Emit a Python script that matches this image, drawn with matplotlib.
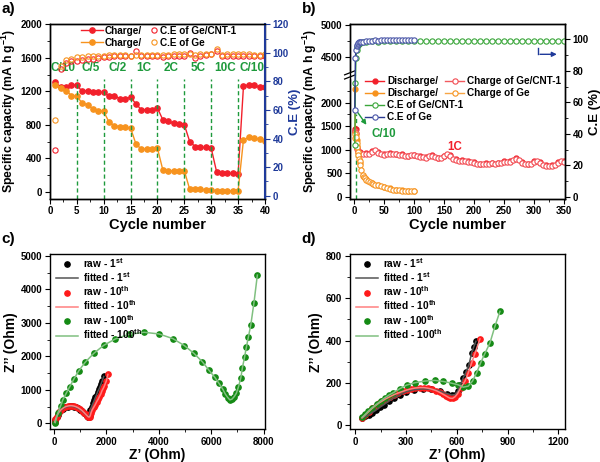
import numpy as np
import matplotlib
matplotlib.use("Agg")
import matplotlib.pyplot as plt
from matplotlib.ticker import MultipleLocator, AutoMinorLocator, FixedLocator

plt.rcParams['font.family'] = ['Liberation Sans', 'DejaVu Sans']
plt.rcParams['font.weight'] = 'bold'
plt.rcParams['axes.labelweight'] = 'bold'
plt.rcParams['mathtext.fontset'] = 'custom'
plt.rcParams['mathtext.rm'] = 'Liberation Sans:bold'
plt.rcParams['mathtext.it'] = 'Liberation Sans:bold'
plt.rcParams['mathtext.bf'] = 'Liberation Sans:bold'
plt.rcParams['axes.linewidth'] = 1.0
plt.rcParams['xtick.labelsize'] = 7
plt.rcParams['ytick.labelsize'] = 7
plt.rcParams['xtick.major.size'] = 3.5
plt.rcParams['ytick.major.size'] = 3.5
plt.rcParams['xtick.minor.size'] = 2
plt.rcParams['ytick.minor.size'] = 2
plt.rcParams['xtick.major.pad'] = 2
plt.rcParams['ytick.major.pad'] = 2

RED = '#F2202B'
ORANGE = '#F7931E'
GREEN = '#1E9A3C'
NAVY = '#1F3A9A'
CE_GREEN = '#3AA63A'
CE_BLUE = '#2B3A92'

# ---- a) rate performance ----
cycles_a = list(range(1, 41))
charge_cnt_a = [1310, 1250, 1250, 1280, 1270, 1200, 1210, 1190, 1190, 1190,
                1140, 1150, 1110, 1110, 1130, 1050, 980, 980, 980, 1000,
                860, 840, 820, 810, 800, 600, 540, 530, 530, 520,
                240, 220, 220, 220, 210, 1260, 1280, 1270, 1250, 1250]
charge_ge_a = [1280, 1240, 1210, 1150, 1140, 1060, 1040, 990, 970, 960,
               830, 790, 780, 770, 760, 570, 510, 510, 510, 520,
               260, 250, 250, 250, 250, 30, 30, 30, 25, 25,
               10, 10, 10, 10, 10, 620, 650, 640, 630, 610]
ce_cnt_a = [32, 89, 93, 94, 94, 95, 96, 96, 96.5, 97,
            97, 97.5, 97.5, 98, 97.5, 101, 97.5, 97.5, 97.5, 98,
            97, 97.5, 98, 98, 98, 100, 96.5, 98, 98.5, 99,
            101.5, 97.5, 98, 98, 98, 98, 97.5, 98, 97.5, 98]
ce_ge_a = [53, 91, 95, 96, 97, 97, 97.5, 97.5, 98, 98,
           98.5, 98.5, 98.5, 98.5, 98, 98.5, 98.5, 98.5, 98.5, 98.5,
           98.5, 98.5, 99, 99, 99, 99.5, 98.5, 99, 99, 99,
           102.5, 98.5, 99, 99, 99, 99, 99, 98.5, 98.5, 99]
rate_labels = ['C/10', 'C/5', 'C/2', '1C', '2C', '5C', '10C', 'C/10']
rate_edges = [5, 10, 15, 20, 25, 30, 35]

# ---- b) cycling at 1C ----
cyc_cnt_chg = [1, 2, 3, 4, 6, 10, 15, 20, 25, 30, 35, 40, 45, 50, 55, 60, 65, 70,
               75, 80, 85, 90, 95, 100, 105, 110, 115, 120, 125, 130, 135, 140,
               145, 150, 155, 160, 165, 170, 175, 180, 185, 190, 195, 200, 205,
               210, 215, 220, 225, 230, 235, 240, 245, 250, 255, 260, 265, 270,
               275, 280, 285, 290, 295, 300, 305, 310, 315, 320, 325, 330, 335,
               340, 345, 350]
cap_cnt_chg = [1400, 1380, 1350, 1010, 960, 930, 920, 910, 920, 950, 985, 930, 900,
               890, 910, 920, 910, 900, 880, 890, 870, 860, 880, 880, 870, 850,
               840, 830, 860, 870, 840, 820, 830, 860, 900, 870, 810, 780, 770,
               760, 770, 750, 740, 720, 700, 690, 690, 700, 700, 710, 700, 710,
               720, 740, 730, 750, 780, 810, 780, 720, 700, 690, 700, 740, 770,
               720, 680, 660, 650, 660, 680, 720, 760, 740]
cyc_cnt_dis = [2, 3, 4, 10, 20, 30, 40, 50, 60, 70, 80, 90, 100, 110, 120, 130, 140,
               150, 160, 170, 180, 190, 200, 210, 220, 230, 240, 250, 260, 270,
               280, 290, 300, 310, 320, 330, 340, 350]
cap_cnt_dis = [1450, 1430, 1030, 945, 925, 965, 945, 905, 930, 915, 900, 875, 895,
               865, 845, 880, 835, 870, 885, 795, 775, 765, 735, 705, 715, 720,
               725, 755, 765, 820, 735, 705, 755, 735, 675, 675, 735, 755]
cyc_ge_chg = [1, 2, 3, 4, 5, 6, 7, 8, 9, 10, 12, 14, 16, 18, 20, 23, 26, 29, 32,
              35, 40, 45, 50, 55, 60, 65, 70, 75, 80, 85, 90, 95, 100]
cap_ge_chg = [1250, 1330, 1280, 1150, 1050, 960, 880, 810, 760, 680, 560, 460,
              420, 390, 360, 340, 310, 285, 270, 260, 245, 230, 200, 180, 170,
              155, 145, 140, 135, 130, 130, 125, 125]
cyc_ge_dis = [1, 2, 3, 4, 5, 10, 15, 20, 30, 40, 50, 60, 70, 80, 90, 100]
cap_ge_dis = [2290, 1400, 1340, 1200, 1090, 720, 450, 380, 300, 255, 210, 180,
              150, 140, 135, 130]
cyc_ce_cnt = [1, 2, 3, 4, 5, 6, 8, 10, 15, 20, 30, 40, 50, 60, 70, 80, 90, 100,
              110, 120, 130, 140, 150, 160, 170, 180, 190, 200, 210, 220, 230,
              240, 250, 260, 270, 280, 290, 300, 310, 320, 330, 340, 350]
ce_cnt_b = [33, 72, 88, 93, 95, 96.5, 97, 97.5, 98, 98.5, 98.8, 98.5, 98.8, 99,
            98.7, 99, 98.8, 99.2, 98.8, 98.7, 99, 98.8, 99, 98.8, 98.9, 98.7,
            99, 98.8, 99.1, 98.9, 98.8, 99, 98.9, 98.8, 99.2, 98.9, 98.8, 99,
            98.9, 99, 98.8, 99, 98.9]
cyc_ce_ge = [1, 2, 3, 4, 5, 6, 7, 8, 10, 12, 15, 20, 25, 30, 35, 40, 45, 50, 55,
             60, 65, 70, 75, 80, 85, 90, 95, 100]
ce_ge_b = [55, 88, 93, 95.5, 96.5, 97, 97.5, 98, 98, 98.5, 98.5, 99, 99, 99.2,
           99.5, 99.2, 99.3, 99.4, 99.3, 99.5, 99.4, 99.6, 99.5, 99.6, 99.5,
           99.6, 99.6, 99.7]

# ---- c) EIS of Ge/CNT-1 ----
zre_c_1 = [30, 60, 100, 150, 210, 280, 360, 440, 520, 600, 680, 760, 840, 920,
           1000, 1080, 1150, 1210, 1260, 1300, 1330, 1360, 1393, 1440, 1493,
           1540, 1583, 1630, 1670, 1720, 1759, 1800, 1840, 1900]
zim_c_1 = [30, 100, 180, 260, 330, 390, 440, 475, 495, 505, 505, 495, 475, 445,
           405, 360, 310, 265, 225, 200, 195, 250, 397, 500, 598, 690, 777, 860,
           945, 1020, 1094, 1180, 1260, 1400]
zre_c_10 = [30, 60, 100, 150, 210, 280, 360, 440, 520, 600, 680, 760, 840, 920,
            1000, 1080, 1150, 1210, 1260, 1300, 1330, 1360, 1390, 1416, 1460,
            1519, 1580, 1633, 1690, 1735, 1790, 1834, 1880, 1925, 2000, 2060]
zim_c_10 = [40, 120, 200, 280, 350, 410, 460, 495, 515, 525, 525, 515, 495, 465,
            425, 375, 320, 270, 230, 200, 185, 190, 240, 318, 400, 478, 560, 646,
            720, 796, 880, 975, 1040, 1115, 1264, 1460]
zre_c_100 = [50, 150, 255, 340, 470, 595, 760, 950, 1190, 1520, 1900, 2340, 2870,
             3440, 4010, 4540, 4980, 5340, 5660, 5910, 6140, 6290, 6440, 6540,
             6630, 6710, 6790, 6880, 6960, 7040, 7130, 7190, 7270, 7340, 7420,
             7510, 7630, 7760]
zim_c_100 = [20, 300, 520, 700, 900, 1080, 1320, 1570, 1820, 2090, 2330, 2520,
             2660, 2720, 2670, 2530, 2320, 2090, 1840, 1590, 1370, 1200, 1020,
             870, 770, 700, 720, 800, 900, 1090, 1360, 1660, 1970, 2270, 2590,
             2940, 3600, 4430]

# ---- d) EIS of Ge ----
zre_d_1 = [40, 60, 80, 100, 120, 145, 170, 200, 230, 265, 300, 350, 400, 450,
           500, 540, 570, 590, 605, 620, 638, 654, 672, 688, 700, 713]
zim_d_1 = [35, 42, 50, 60, 70, 85, 98, 115, 130, 145, 158, 168, 172, 170, 162,
           150, 143, 145, 160, 190, 224, 251, 287, 342, 370, 397]
zre_d_10 = [40, 60, 80, 100, 120, 140, 160, 180, 205, 230, 255, 280, 305, 330,
            355, 380, 405, 430, 455, 480, 500, 520, 535, 550, 560, 575, 590,
            605, 623, 648, 668, 688, 707, 737]
zim_d_10 = [35, 50, 65, 80, 93, 105, 115, 125, 135, 145, 153, 160, 167, 172,
            176, 178, 178, 175, 170, 163, 155, 146, 139, 132, 128, 127, 135,
            150, 177, 208, 248, 295, 339, 408]
zre_d_100 = [41, 60, 77, 100, 126, 150, 175, 200, 225, 264, 304, 353, 412, 471,
             520, 569, 608, 638, 668, 693, 717, 741, 766, 796, 825, 855]
zim_d_100 = [38, 52, 67, 83, 99, 115, 130, 143, 154, 173, 190, 201, 209, 212,
             207, 199, 191, 180, 185, 209, 248, 295, 339, 389, 467, 538]

fig = plt.figure(figsize=(6, 4.62), dpi=100)
ax_a = fig.add_axes([0.0833, 0.5703, 0.3583, 0.377])
ax_b = fig.add_axes([0.5833, 0.5703, 0.3583, 0.377])
ax_c = fig.add_axes([0.0833, 0.0708, 0.3583, 0.3794])
ax_d = fig.add_axes([0.5833, 0.0708, 0.3583, 0.3794])

LEG = dict(frameon=False, fontsize=7.2, borderpad=0, borderaxespad=0,
           loc='upper left')

# ======== a ========
ax = ax_a
h1, = ax.plot(cycles_a, charge_cnt_a, '-o', color=RED, ms=3.8, lw=1)
h2, = ax.plot(cycles_a, charge_ge_a, '-o', color=ORANGE, ms=3.8, lw=1)
ax.vlines(rate_edges, -80, 1350, colors=GREEN, linestyles=(0, (3, 2)), lw=1)
edges = [0] + rate_edges + [40]
for i, lab in enumerate(rate_labels):
    ax.text((edges[i] + edges[i + 1]) / 2, 1480, lab, color=GREEN, fontsize=8.5,
            ha='center', va='center')
ax.set_xlim(0, 40)
ax.set_ylim(-80, 2000)
ax.xaxis.set_major_locator(MultipleLocator(5))
ax.xaxis.set_minor_locator(AutoMinorLocator(2))
ax.yaxis.set_major_locator(MultipleLocator(400))
ax.yaxis.set_minor_locator(AutoMinorLocator(2))
ax.set_xlabel('Cycle number', fontsize=10.5, labelpad=1)
ax.set_ylabel('Specific capacity (mA h g$^{-1}$)', fontsize=8.8, labelpad=2)
ax2 = ax.twinx()
h3, = ax2.plot(cycles_a, ce_cnt_a, 'o', mfc='none', mec=RED, ms=3.8, mew=0.8)
h4, = ax2.plot(cycles_a, ce_ge_a, 'o', mfc='none', mec=ORANGE, ms=3.8, mew=0.8)
ax2.set_ylim(-2, 120)
ax2.yaxis.set_major_locator(MultipleLocator(20))
ax2.yaxis.set_minor_locator(AutoMinorLocator(2))
ax2.spines['right'].set_color(NAVY)
ax2.spines['right'].set_linewidth(1.5)
ax2.tick_params(axis='y', which='both', colors=NAVY)
ax2.set_ylabel('C.E (%)', fontsize=9.5, color=NAVY, labelpad=0)
leg1 = ax2.legend([h1, h2], ['Charge/', 'Charge/'], bbox_to_anchor=(0.144, 0.992),
                  handlelength=2.2, handletextpad=0.2, labelspacing=0.2, **LEG)
ax2.add_artist(leg1)
ax2.legend([h3, h4], ['C.E of Ge/CNT-1', 'C.E of Ge'], bbox_to_anchor=(0.47, 0.992),
           handlelength=0.6, handletextpad=0.3, labelspacing=0.2, **LEG)

# ======== b ========
B_LOW, B_HIGH, K_UP = 2590, 4210, 1.33


def fwd(y):
    y = np.asarray(y, float)
    return np.where(y <= B_LOW, y,
                    np.where(y >= B_HIGH, B_LOW + 1 + (y - B_HIGH) * K_UP,
                             B_LOW + (y - B_LOW) / (B_HIGH - B_LOW)))


def inv(u):
    u = np.asarray(u, float)
    return np.where(u <= B_LOW, u,
                    np.where(u >= B_LOW + 1, B_HIGH + (u - B_LOW - 1) / K_UP,
                             B_LOW + (u - B_LOW) * (B_HIGH - B_LOW)))


ax = ax_b
ax.set_yscale('function', functions=(fwd, inv))
ax.vlines([3], -35, 1760, colors=GREEN, linestyles=(0, (3, 2)), lw=1)
d1, = ax.plot(cyc_cnt_dis, cap_cnt_dis, '-o', color=RED, ms=3.5, lw=1)
d2, = ax.plot(cyc_ge_dis, cap_ge_dis, '-o', color=ORANGE, ms=3.5, lw=1)
c1, = ax.plot(cyc_cnt_chg, cap_cnt_chg, '-o', color='#F25A5F', mfc='white',
              mec='#F24B52', ms=3.8, mew=0.8, lw=1)
c2, = ax.plot(cyc_ge_chg, cap_ge_chg, '-o', color='#F7A545', mfc='white',
              mec=ORANGE, ms=3.8, mew=0.8, lw=1)
ax.set_xlim(-7, 352)
ax.set_ylim(-35, 5015)
ax.yaxis.set_major_locator(FixedLocator([0, 500, 1000, 1500, 2000, 4500, 5000]))
ax.yaxis.set_minor_locator(FixedLocator([250, 750, 1250, 1750, 2250, 4750]))
ax.xaxis.set_major_locator(MultipleLocator(50))
ax.xaxis.set_minor_locator(AutoMinorLocator(2))
ax.set_xlabel('Cycle number', fontsize=10.5, labelpad=1)
ax.set_ylabel('Specific capacity (mA h g$^{-1}$)', fontsize=8.8, labelpad=1)
span = fwd(5015) - fwd(-35)
yb = float((fwd(B_LOW) - fwd(-35)) / span)
ax.plot([0, 0], [yb - 0.012, yb + 0.012], transform=ax.transAxes,
        color='white', lw=2.5, clip_on=False, zorder=5)
for off in (-0.012, 0.012):
    ax.plot([-0.025, 0.025], [yb + off - 0.012, yb + off + 0.012],
            transform=ax.transAxes, color='k', lw=0.9, clip_on=False, zorder=6)
ax.annotate('', xy=(0.084, 0.41), xytext=(0.028, 0.508), xycoords='axes fraction',
            arrowprops=dict(arrowstyle='-|>', color=GREEN, lw=1, mutation_scale=7))
ax.text(0.158, 0.37, 'C/10', transform=ax.transAxes, color=GREEN, fontsize=8.3,
        ha='center', va='center')
ax.text(0.488, 0.296, '1C', transform=ax.transAxes, color=RED, fontsize=8.3,
        ha='center', va='center')
bx = ax.twinx()
e1, = bx.plot(cyc_ce_cnt, ce_cnt_b, '-o', color=CE_GREEN, mfc='white',
              mec=CE_GREEN, ms=3.8, mew=0.8, lw=1)
e2, = bx.plot(cyc_ce_ge, ce_ge_b, '-o', color=CE_BLUE, mfc='white',
              mec='#4A56A8', ms=3.8, mew=0.8, lw=1)
bx.set_ylim(-1, 109.5)
bx.yaxis.set_major_locator(MultipleLocator(20))
bx.yaxis.set_minor_locator(AutoMinorLocator(2))
bx.set_ylabel('C.E (%)', fontsize=9.5, labelpad=0)
bx.plot([0.873, 0.873], [0.862, 0.828], transform=bx.transAxes, color=NAVY, lw=1)
bx.annotate('', xy=(0.975, 0.828), xytext=(0.871, 0.828), xycoords='axes fraction',
            arrowprops=dict(arrowstyle='-|>', color=NAVY, lw=1, mutation_scale=7))
legb = bx.legend([d1, d2, e1, e2],
                 ['Discharge/', 'Discharge/', 'C.E of Ge/CNT-1', 'C.E of Ge'],
                 bbox_to_anchor=(0.07, 0.703), handlelength=1.9,
                 handletextpad=0.3, labelspacing=0.2, **LEG)
bx.add_artist(legb)
bx.legend([c1, c2], ['Charge of Ge/CNT-1', 'Charge of Ge'],
          bbox_to_anchor=(0.442, 0.703), handlelength=1.9, handletextpad=0.3,
          labelspacing=0.2, **LEG)


# ======== c, d ========
def nyquist(ax, data, xlim, ylim, xstep, ystep):
    handles = []
    for (x, y, col, fcol) in data:
        hr, = ax.plot(x, y, 'o', color=col, ms=3.8, lw=0, zorder=3)
        hf, = ax.plot(x, y, '-', color=fcol, lw=1.1, zorder=4)
        handles += [hr, hf]
    labels = []
    for n in ['1$^{\\mathrm{st}}$', '10$^{\\mathrm{th}}$', '100$^{\\mathrm{th}}$']:
        labels += ['raw - ' + n, 'fitted - ' + n]
    ax.legend(handles, labels, loc='upper left', bbox_to_anchor=(0.028, 0.99),
              frameon=False, fontsize=7.3, handlelength=2.2, handletextpad=0.5,
              labelspacing=0.05, borderpad=0, borderaxespad=0)
    ax.set_xlim(*xlim)
    ax.set_ylim(*ylim)
    ax.xaxis.set_major_locator(MultipleLocator(xstep))
    ax.xaxis.set_minor_locator(AutoMinorLocator(2))
    ax.yaxis.set_major_locator(MultipleLocator(ystep))
    ax.yaxis.set_minor_locator(AutoMinorLocator(2))
    ax.set_xlabel('Z\u2019 (Ohm)', fontsize=10, labelpad=1)
    ax.set_ylabel('Z\u2019\u2019 (Ohm)', fontsize=10, labelpad=2)


nyquist(ax_c, [(zre_c_1, zim_c_1, 'black', '#555555'),
               (zre_c_10, zim_c_10, '#FF1A1A', '#FF8080'),
               (zre_c_100, zim_c_100, '#148A14', '#80C080')],
        (-150, 8050), (-180, 5060), 2000, 1000)
nyquist(ax_d, [(zre_d_1, zim_d_1, 'black', '#555555'),
               (zre_d_10, zim_d_10, '#FF1A1A', '#FF8080'),
               (zre_d_100, zim_d_100, '#148A14', '#80C080')],
        (-31, 1239), (-19, 809), 300, 200)

for lab, x, y in [('a)', 0.003, 0.995), ('b)', 0.503, 0.995),
                  ('c)', 0.003, 0.497), ('d)', 0.503, 0.497)]:
    fig.text(x, y, lab, fontsize=11, fontweight='bold', ha='left', va='top')

fig.savefig('out.png', dpi=100)
